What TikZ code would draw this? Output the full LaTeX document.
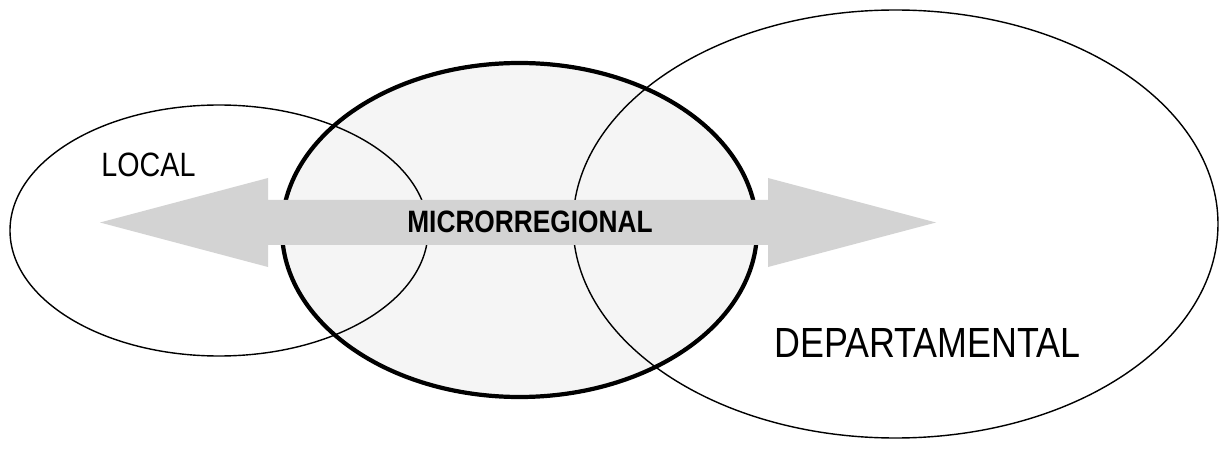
\documentclass[tikz,border=0pt]{standalone}
\usepackage{fontspec}
\setmainfont{Liberation Sans}
\newfontfamily\narrowfont[FakeStretch=0.85]{Liberation Sans}
\definecolor{arrowgray}{HTML}{D3D3D3}
\definecolor{microfill}{HTML}{F5F5F5}

\begin{document}
\begin{tikzpicture}[
		thinring/.style={black, line width=1pt},
		thickring/.style={black, line width=3pt},
		label/.style={anchor=base, inner sep=0pt, font=\narrowfont}]
		\useasboundingbox (0,0) rectangle (30.5,11.25);
		
		% Microrregional fill
		\fill[microfill] (12.9875,5.5) ellipse[x radius=5.9375cm, y radius=4.175cm];
		
		%% Local and departamental rings
		\draw[thinring] (5.475,5.4875) ellipse[x radius=5.225cm, y radius=3.1375cm];
		\draw[thinring] (22.3875,5.65) ellipse[x radius=8.0625cm, y radius=5.35cm];
		
		%% Microrregional ring
		\draw[thickring] (12.9875,5.5) ellipse[x radius=5.9375cm, y radius=4.175cm];
		
		%% Double arrow
		\fill[arrowgray] (2.5,5.6875) -- (6.7,6.8) -- (6.7,6.25) -- (19.2,6.25) -- (19.2,6.8)
			-- (23.4,5.6875) -- (19.2,4.575) -- (19.2,5.125) -- (6.7,5.125) -- (6.7,4.575) -- cycle;
		
		%% Labels
		\node[label, font=\narrowfont\fontsize{24}{28}\selectfont] (local) at (3.7125,6.825) {LOCAL};
		\node[label, font=\narrowfont\bfseries\fontsize{22}{26}\selectfont] (micro) at (13.25,5.425) {MICRORREGIONAL};
		\node[label, font=\narrowfont\fontsize{30}{36}\selectfont] (depto) at (23.1875,2.325) {DEPARTAMENTAL};
	\end{tikzpicture}
\end{document}
